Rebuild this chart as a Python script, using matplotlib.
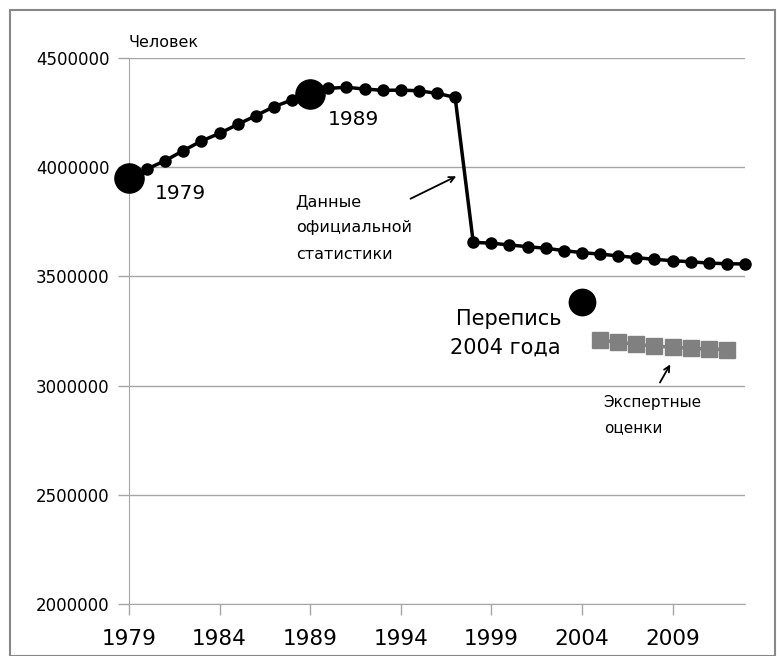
import matplotlib.pyplot as plt
from matplotlib.patches import Rectangle

plt.rcParams['font.family'] = ['DejaVu Sans']

years = list(range(1979, 2014))
official = [3951000, 3992000, 4030000, 4076000, 4120000, 4155000, 4196000,
            4236000, 4277000, 4308000, 4335000, 4361000, 4366000, 4358000,
            4352000, 4353000, 4350000, 4338000, 4320000, 3656000, 3652000,
            3644000, 3636000, 3629000, 3618000, 3609000, 3602000, 3594000,
            3586000, 3578000, 3572000, 3567000, 3561000, 3558000, 3557000]
census_years = [1979, 1989]
census_vals = [3951000, 4335000]
census2004_year = [2004]
census2004_val = [3383000]
expert_years = list(range(2005, 2013))
expert_vals = [3208000, 3199000, 3189000, 3181000, 3176000, 3171000, 3167000, 3165000]
xticks = [1979, 1984, 1989, 1994, 1999, 2004, 2009]
yticks = [2000000, 2500000, 3000000, 3500000, 4000000, 4500000]

fig = plt.figure(figsize=(7.77, 6.56), dpi=100)
fig.patches.append(Rectangle((10/777, 0), 765/777, 1-10/656, transform=fig.transFigure,
                             fill=False, edgecolor='#888888', lw=1.5))
ax = fig.add_axes([129/777, 1-604/656, (745-129)/777, (604-58)/656])

ax.plot(years, official, color='black', lw=2.5, marker='o', ms=8, zorder=3, clip_on=False)
ax.plot(census_years, census_vals, 'o', color='black', ms=21, zorder=4, clip_on=False)
ax.plot(census2004_year, census2004_val, 'o', color='black', ms=19, zorder=4)
ax.plot(expert_years, expert_vals, color='#808080', lw=2.5, marker='s', ms=11, zorder=3)

ax.set_xlim(1979, 2013)
ax.set_ylim(2000000, 4500000)
ax.set_xticks(xticks)
ax.set_xticklabels([str(x) for x in xticks], fontsize=15.5)
ax.set_yticks(yticks)
ax.set_yticklabels([str(y) for y in yticks], fontsize=12)
ax.grid(axis='y', color='#a6a6a6', lw=1)
ax.set_axisbelow(True)
for s in ['top', 'right']:
    ax.spines[s].set_visible(False)
ax.spines['left'].set_color('#a6a6a6')
ax.spines['bottom'].set_color('#a6a6a6')
ax.tick_params(axis='both', colors='#a6a6a6', labelcolor='black', length=8, width=1)
ax.tick_params(axis='x', pad=10)
ax.tick_params(axis='y', pad=6)

ax.text(1979, 4573000, 'Человек', fontsize=11.5, ha='left', va='center')
ax.text(1980.4, 3880000, '1979', fontsize=14.5, ha='left', va='center')
ax.text(1990.0, 4220000, '1989', fontsize=14.5, ha='left', va='center')
ax.text(1988.2, 3722000, 'Данные\nофициальной\nстатистики', fontsize=11.5,
        ha='left', va='center', linespacing=1.95)
ax.annotate('', xy=(1997.2, 3964000), xytext=(1994.4, 3850000),
            arrowprops=dict(arrowstyle='->', color='black', lw=1.3))
ax.text(2002.85, 3240000, 'Перепись\n2004 года', fontsize=15, ha='right', va='center',
        linespacing=1.5)
ax.text(2005.2, 2863000, 'Экспертные\nоценки', fontsize=11, ha='left', va='center',
        linespacing=1.85)
ax.annotate('', xy=(2008.95, 3108000), xytext=(2008.23, 3003000),
            arrowprops=dict(arrowstyle='->', color='black', lw=1.3))

fig.savefig('out.png', dpi=100)
